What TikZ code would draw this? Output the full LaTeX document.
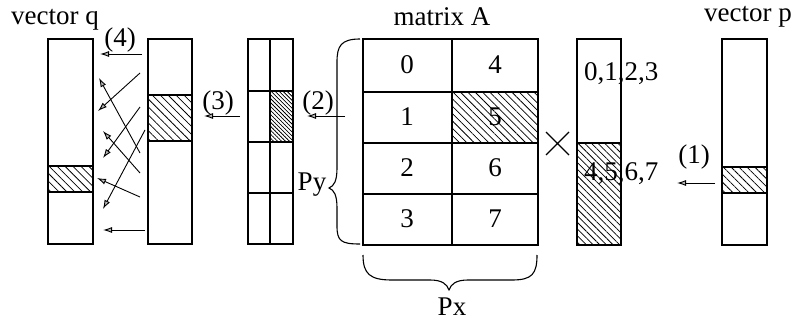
\documentclass[tikz,border=0pt]{standalone}
\usepackage{fontspec}
\setmainfont{Liberation Serif}
\usetikzlibrary{patterns.meta,arrows.meta}
\begin{document}
\begin{tikzpicture}[x=1pt,y=1pt,
 box/.style={draw,line width=1.1pt},
 hatch/.style={pattern={Lines[angle=-45,distance=#1,line width=0.75pt]}},
 lbl/.style={font=\fontsize{27}{30}\selectfont, inner sep=0pt},
 arr/.style={line width=0.9pt, -{Latex[length=9pt,width=6pt,fill=gray!55]}},
]
\useasboundingbox (0,0) rectangle (797,-323);

% ---- vector q
\fill[hatch=5.6pt] (48,-166) rectangle (93,-192);
\draw[box] (48,-39) rectangle (93,-244);
\draw[box] (48,-166) -- (93,-166) (48,-192) -- (93,-192);
\node[lbl] (vq) at (55,-20) {vector q};

% ---- middle column
\fill[hatch=5.6pt] (148,-95) rectangle (192,-141);
\draw[box] (148,-39) rectangle (192,-244);
\draw[box] (148,-95) -- (192,-95) (148,-141) -- (192,-141);

% ---- two-column block
\fill[hatch=2.8pt] (270,-91) rectangle (293,-142);
\draw[box] (248,-39) rectangle (293,-244);
\draw[box] (270,-39) -- (270,-244);
\draw[box] (248,-91) -- (293,-91) (248,-142) -- (293,-142) (248,-193) -- (293,-193);

% ---- matrix A
\fill[hatch=5.2pt] (452,-92) rectangle (538,-143);
\draw[box] (363,-39) rectangle (538,-245);
\draw[box] (452,-39) -- (452,-245);
\draw[box] (363,-92) -- (538,-92) (363,-143) -- (538,-143) (363,-194) -- (538,-194);
\node[lbl] (mA) at (442,-17) {matrix A};
\node[lbl] (a0) at (407,-65) {0};
\node[lbl] (a1) at (407,-117) {1};
\node[lbl] (a2) at (407,-168) {2};
\node[lbl] (a3) at (407,-219) {3};
\node[lbl] (a4) at (495,-65) {4};
\node[lbl] (a5) at (495,-117) {5};
\node[lbl] (a6) at (495,-168) {6};
\node[lbl] (a7) at (495,-219) {7};

% ---- braces
\draw[line width=1.1pt] (360,-39) .. controls (341,-39) and (337,-46) .. (337,-62) -- (337,-168)
  .. controls (337,-181) and (334,-186) .. (329,-188)
  .. controls (334,-190) and (337,-195) .. (337,-208) -- (337,-226)
  .. controls (337,-241) and (341,-244) .. (360,-244);
\node[lbl] (py) at (312,-185) {Py};
\draw[line width=1.1pt] (363,-255) .. controls (363,-274) and (370,-280) .. (392,-280) -- (430,-280)
  .. controls (442,-280) and (447,-284) .. (449,-290)
  .. controls (451,-284) and (456,-280) .. (468,-280) -- (512,-280)
  .. controls (532,-280) and (537,-274) .. (537,-255);
\node[lbl] (px) at (452,-307) {Px};

% ---- times sign
\draw[line width=1.1pt] (546,-132) -- (569,-155) (546,-155) -- (569,-132);
\coordinate (times) at (557,-143);

% ---- vector after multiplication
\fill[hatch=4.7pt] (577,-143) rectangle (621,-245);
\draw[box] (577,-39) rectangle (621,-245);
\draw[box] (577,-143) -- (621,-143);
\node[lbl,anchor=west] (t0) at (584,-74) {0,1,2,3};
\node[lbl,anchor=west] (t1) at (584,-174) {4,5,6,7};

% ---- vector p
\fill[hatch=5.6pt] (722,-167) rectangle (767,-193);
\draw[box] (722,-39) rectangle (767,-245);
\draw[box] (722,-167) -- (767,-167) (722,-193) -- (767,-193);
\node[lbl] (vp) at (748,-17) {vector p};

% ---- step labels
\node[lbl] (s1) at (694,-157) {(1)};
\node[lbl] (s2) at (318,-103) {(2)};
\node[lbl] (s3) at (218,-103) {(3)};
\node[lbl] (s4) at (120,-40) {(4)};

% ---- arrow end points
\coordinate (p1a) at (715,-183); \coordinate (p1b) at (677,-183);
\coordinate (p2a) at (345,-116); \coordinate (p2b) at (307,-116);
\coordinate (p3a) at (240,-116); \coordinate (p3b) at (204,-116);
\coordinate (p4a) at (142,-54);  \coordinate (p4b) at (100,-54);
\coordinate (c1a) at (140,-73);  \coordinate (c1b) at (98,-111);
\coordinate (c2a) at (140,-153); \coordinate (c2b) at (99,-78);
\coordinate (c3a) at (140,-107); \coordinate (c3b) at (103,-158);
\coordinate (c4a) at (140,-173); \coordinate (c4b) at (103,-131);
\coordinate (c5a) at (145,-130); \coordinate (c5b) at (103,-209);
\coordinate (c6a) at (140,-197); \coordinate (c6b) at (97,-178);
\coordinate (c7a) at (145,-230); \coordinate (c7b) at (103,-230);

\foreach \a/\b in {p1a/p1b,p2a/p2b,p3a/p3b,p4a/p4b,c1a/c1b,c2a/c2b,c3a/c3b,c4a/c4b,c5a/c5b,c6a/c6b,c7a/c7b}
  \draw[arr] (\a) -- (\b);
\end{tikzpicture}
\end{document}
